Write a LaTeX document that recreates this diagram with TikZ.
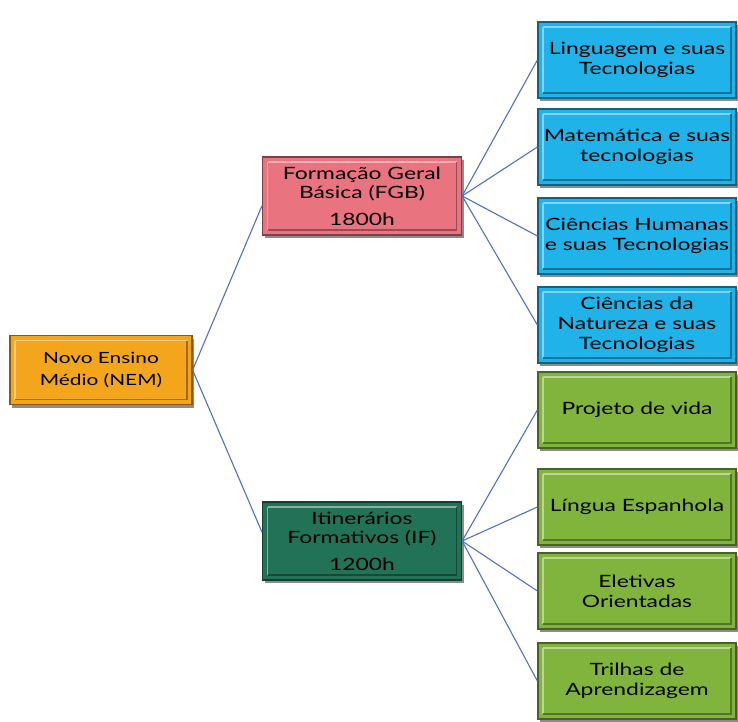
\documentclass[tikz,border=0pt]{standalone}
\usepackage{fontspec}
\setmainfont[FakeStretch=1.35]{Lato}
\usetikzlibrary{shadows,calc}
\definecolor{nemc}{HTML}{F3A51C}
\definecolor{fgbc}{HTML}{E9737E}
\definecolor{ifc}{HTML}{217256}
\definecolor{bluec}{HTML}{1FB3E9}
\definecolor{greenc}{HTML}{80B43C}
\definecolor{linec}{HTML}{5072C0}
\tikzset{
  bx/.style={rectangle, fill=#1, draw=#1!55!black, line width=1.2bp,
    text=black, align=center, inner sep=2bp,
    drop shadow={shadow xshift=2bp, shadow yshift=-3bp, opacity=0.45, fill=black},
    path picture={
      \draw[#1!55!white, line width=1.6bp]
        ([shift={(5bp,-5bp)}]path picture bounding box.north west) --
        ([shift={(-5bp,-5bp)}]path picture bounding box.north east);
      \draw[#1!55!white, line width=1.6bp]
        ([shift={(5bp,-5bp)}]path picture bounding box.north west) --
        ([shift={(5bp,5bp)}]path picture bounding box.south west);
      \draw[#1!65!black, line width=1.6bp]
        ([shift={(5bp,5bp)}]path picture bounding box.south west) --
        ([shift={(-5bp,5bp)}]path picture bounding box.south east) --
        ([shift={(-5bp,-5bp)}]path picture bounding box.north east);
    }},
  rbox/.style={bx=#1, minimum width=198bp, minimum height=76bp,
    font=\fontsize{17}{20}\selectfont},
  midbox/.style={bx=#1, minimum width=199bp, minimum height=78bp,
    font=\fontsize{17}{19}\selectfont},
  conn/.style={draw=linec, line width=1.1bp}
}
\begin{document}
\begin{tikzpicture}[x=1bp,y=-1bp]
\useasboundingbox (0,0) rectangle (738,722);
% nodes
\node[bx=nemc, minimum width=182bp, minimum height=69bp,
  font=\fontsize{15.5}{22}\selectfont] (nem) at (101,370) {Novo Ensino\\Médio (NEM)};
\node[midbox=fgbc] (fgb) at (362,196) {Formação Geral\\Básica (FGB)\\[8bp]1800h};
\node[midbox=ifc] (if) at (362,541) {Itinerários\\Formativos (IF)\\[8bp]1200h};
\node[rbox=bluec] (ling) at (637,60) {Linguagem e suas\\Tecnologias};
\node[rbox=bluec] (mat) at (637,147) {Matemática e suas\\tecnologias};
\node[rbox=bluec] (ch) at (637,236) {Ciências Humanas\\e suas Tecnologias};
\node[rbox=bluec] (cn) at (637,325) {Ciências da\\Natureza e suas\\Tecnologias};
\node[rbox=greenc] (pv) at (637,410) {Projeto de vida};
\node[rbox=greenc] (le) at (637,507) {Língua Espanhola};
\node[rbox=greenc] (eo) at (637,591) {Eletivas\\Orientadas};
\node[rbox=greenc] (ta) at (637,681) {Trilhas de\\Aprendizagem};
% connectors
\draw[conn] (nem.east) -- ($(fgb.west)+(0,10)$);
\draw[conn] (nem.east) -- ($(if.west)+(0,-9)$);
\foreach \t in {ling,mat,ch,cn} \draw[conn] (fgb.east) -- (\t.west);
\foreach \t in {pv,le,eo,ta} \draw[conn] (if.east) -- (\t.west);
\end{tikzpicture}
\end{document}
